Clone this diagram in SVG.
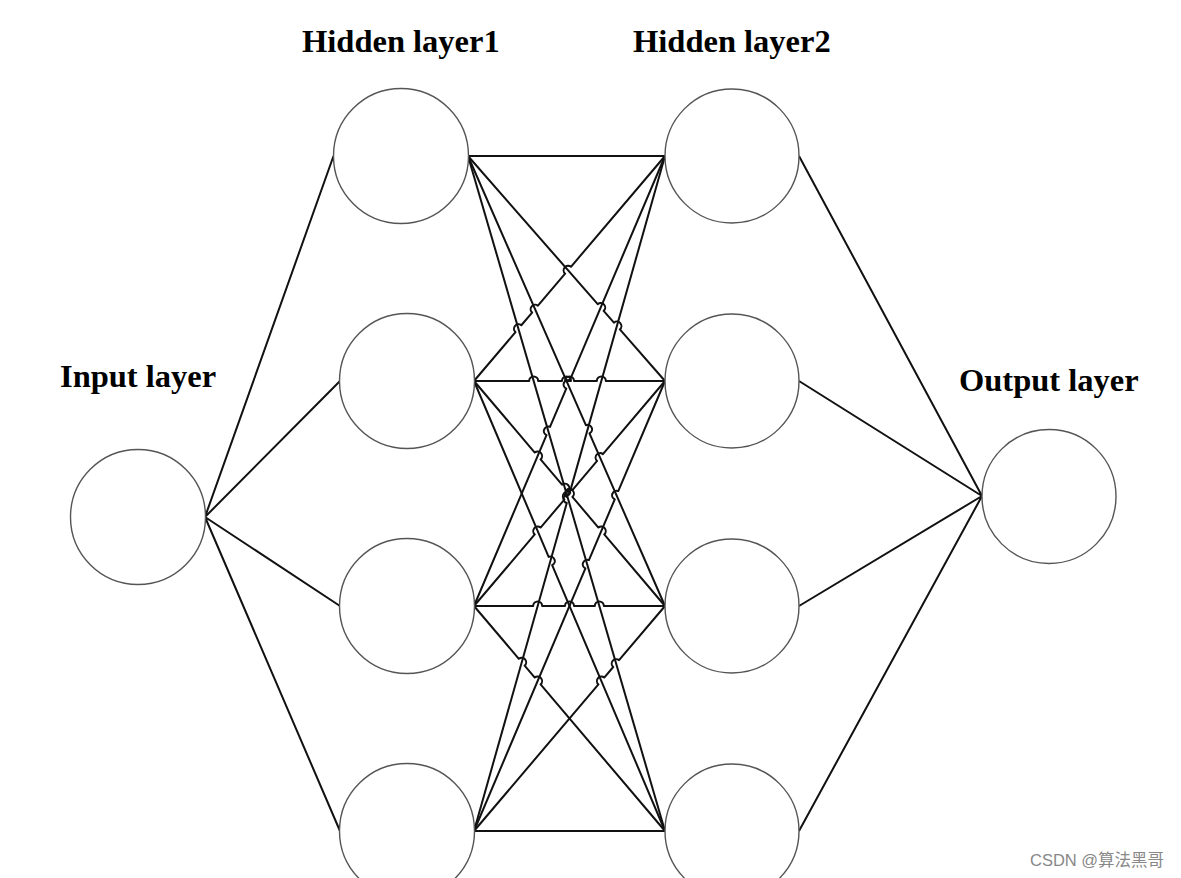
<svg xmlns="http://www.w3.org/2000/svg" width="1181" height="878" viewBox="0 0 1181 878">
<style>
.node{fill:#fff;stroke:#555;stroke-width:1.4}
.edge{fill:none;stroke:#111;stroke-width:2;stroke-linejoin:round}
.lbl{font-family:"Liberation Serif","Times New Roman",serif;font-weight:bold;font-size:32.5px;fill:#000}
.wm{font-family:"Liberation Sans","Noto Sans CJK SC",sans-serif;font-size:16.5px;fill:#888}
</style>
<rect width="1181" height="878" fill="#fff"/>
<g id="connectors">
<path class="edge" d="M205,517L333.5,156M205,517L340,381M205,517L340,606M205,517L340,831"/>
<path class="edge" d="M468,156L665,156"/>
<path class="edge" d="M468,156L597.72,304.15A4.5,4.5 0 0 1 603.64,310.93L613.93,322.66A4.5,4.5 0 0 1 619.85,329.44L665,381"/>
<path class="edge" d="M468,156L585.86,425.21A4.5,4.5 0 0 1 589.47,433.45L665,606"/>
<path class="edge" d="M468,156L665,831"/>
<path class="edge" d="M474,381L515.49,332.12A4.5,4.5 0 0 1 521.31,325.26L532.12,312.54A4.5,4.5 0 0 1 537.94,305.68L565.12,273.68A4.5,4.5 0 0 1 570.94,266.82L665,156"/>
<path class="edge" d="M474,381L529.17,381A4.5,4.5 0 0 1 538.17,381L562,381A4.5,4.5 0 0 1 571,381L565,381A4.5,4.5 0 0 1 574,381L596.83,381A4.5,4.5 0 0 1 605.83,381L665,381"/>
<path class="edge" d="M474,381L534.76,452.57A4.5,4.5 0 0 1 540.58,459.43L562.01,484.66A4.5,4.5 0 0 1 567.83,491.52L566.59,490.07A4.5,4.5 0 0 1 572.41,496.93L598.42,527.57A4.5,4.5 0 0 1 604.24,534.43L665,606"/>
<path class="edge" d="M474,381L548.64,556.86A4.5,4.5 0 0 1 552.16,565.14L665,831"/>
<path class="edge" d="M474,606L546.5,435.14A4.5,4.5 0 0 1 550.02,426.86L566.26,388.61A4.5,4.5 0 0 1 569.78,380.33L665,156"/>
<path class="edge" d="M474,606L534.76,534.43A4.5,4.5 0 0 1 540.58,527.57L564.36,499.57A4.5,4.5 0 0 1 570.18,492.71L566.59,496.93A4.5,4.5 0 0 1 572.41,490.07L597.1,460.97A4.5,4.5 0 0 1 602.92,454.11L665,381"/>
<path class="edge" d="M474,606L533.17,606A4.5,4.5 0 0 1 542.17,606L565,606A4.5,4.5 0 0 1 574,606L594.83,606A4.5,4.5 0 0 1 603.83,606L665,606"/>
<path class="edge" d="M474,606L518.84,658.82A4.5,4.5 0 0 1 524.66,665.68L534.76,677.57A4.5,4.5 0 0 1 540.58,684.43L665,831"/>
<path class="edge" d="M474,831L566.8,503.04A4.5,4.5 0 0 1 569.25,494.38L665,156"/>
<path class="edge" d="M474,831L585.41,568.46A4.5,4.5 0 0 1 588.93,560.18L614.75,499.37A4.5,4.5 0 0 1 618.27,491.09L665,381"/>
<path class="edge" d="M474,831L598.42,684.43A4.5,4.5 0 0 1 604.24,677.57L613.22,666.98A4.5,4.5 0 0 1 619.04,660.12L665,606"/>
<path class="edge" d="M474,831L665,831"/>
<path class="edge" d="M799,156L982,496M799,381L982,496M799,606L982,496M799,831L982,496"/>
</g>
<g id="input"><circle class="node" cx="138" cy="517" r="67.5"/></g>
<g id="h1n1"><circle class="node" cx="401" cy="156" r="67.5"/></g>
<g id="h1n2"><circle class="node" cx="407" cy="381" r="67.5"/></g>
<g id="h1n3"><circle class="node" cx="407" cy="606" r="67.5"/></g>
<g id="h1n4"><circle class="node" cx="407" cy="831" r="67.5"/></g>
<g id="h2n1"><circle class="node" cx="732" cy="156" r="67"/></g>
<g id="h2n2"><circle class="node" cx="732" cy="381" r="67"/></g>
<g id="h2n3"><circle class="node" cx="732" cy="606" r="67"/></g>
<g id="h2n4"><circle class="node" cx="732" cy="831" r="67"/></g>
<g id="output"><circle class="node" cx="1049" cy="496.5" r="67"/></g>
<g id="labels">
<text class="lbl" x="302" y="52">Hidden layer1</text>
<text class="lbl" x="633" y="52">Hidden layer2</text>
<text class="lbl" x="60" y="387">Input layer</text>
<text class="lbl" x="959" y="391">Output layer</text>
<text class="wm" x="1030" y="866">CSDN @算法黑哥</text>
</g>
</svg>
